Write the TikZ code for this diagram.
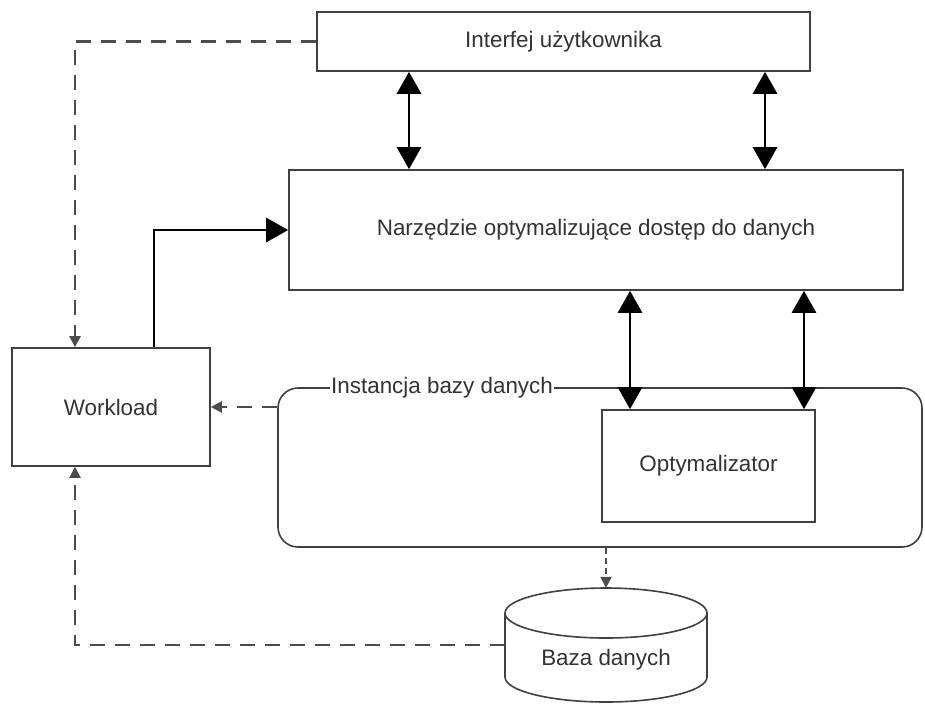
\documentclass[tikz,border=0pt]{standalone}
\usepackage{fontspec}
\setmainfont{Liberation Sans}
\usetikzlibrary{arrows.meta}
\begin{document}
\begin{tikzpicture}[x=1pt,y=-1pt,
  every node/.style={font=\fontsize{22.4}{26}\selectfont, text=black!80},
  box/.style={draw=black!75, line width=1.6pt, inner sep=0pt},
  bigarrow/.style={line width=2.8pt, -{Triangle[length=22pt,width=24pt]}},
  biarrow/.style={line width=2.8pt, {Triangle[length=22pt,width=24pt]}-{Triangle[length=22pt,width=24pt]}},
  dasharrow/.style={draw=black!70, line width=2.2pt, dash pattern=on 15pt off 10pt, -{Triangle[length=11pt,width=11pt]}},
]
\useasboundingbox (0,0) rectangle (925,705);
% boxes
\node[box, minimum width=493pt, minimum height=59pt] (ui) at (563.5,41.5) {Interfej użytkownika};
\node[box, minimum width=614pt, minimum height=120pt] (tool) at (596,230) {Narzędzie optymalizujące dostęp do danych};
\node[box, minimum width=198pt, minimum height=118pt] (wl) at (111,407) {Workload};
\node[box, rounded corners=20pt, minimum width=644pt, minimum height=159pt] (inst) at (600,467.5) {};
\node[fill=white, inner sep=1pt, anchor=west] (instlabel) at (330,388) {Instancja bazy danych};
\node[box, fill=white, minimum width=213pt, minimum height=112pt] (opt) at (708.5,466) {Optymalizator};
% database cylinder
\node[minimum width=202pt, minimum height=114pt, inner sep=0pt] (db) at (606,645) {};
\draw[black!75, line width=1.6pt, fill=white] (505,613) -- (505,677) arc[start angle=180, end angle=0, x radius=101, y radius=25] -- (707,613);
\draw[black!75, line width=1.6pt, fill=white] (606,613) ellipse [x radius=101, y radius=25];
\node (dbtext) at (606,660) {Baza danych};
% solid arrows
\draw[biarrow] (409,0 |- ui.south) -- (409,0 |- tool.north);
\draw[biarrow] (765,0 |- ui.south) -- (765,0 |- tool.north);
\draw[biarrow] (630,0 |- tool.south) -- (630,0 |- opt.north);
\draw[biarrow] (804,0 |- tool.south) -- (804,0 |- opt.north);
\draw[bigarrow] (154,0 |- wl.north) |- (tool.west);
% dashed arrows
\draw[dasharrow] (ui.west) -| (75,0 |- wl.north);
\draw[dasharrow] (inst.west |- wl.east) -- (wl.east);
\draw[dasharrow, dash pattern=on 6pt off 4pt] (db.north |- inst.south) -- (db.north);
\draw[dasharrow] (db.west) -| (75,0 |- wl.south);
\end{tikzpicture}
\end{document}
